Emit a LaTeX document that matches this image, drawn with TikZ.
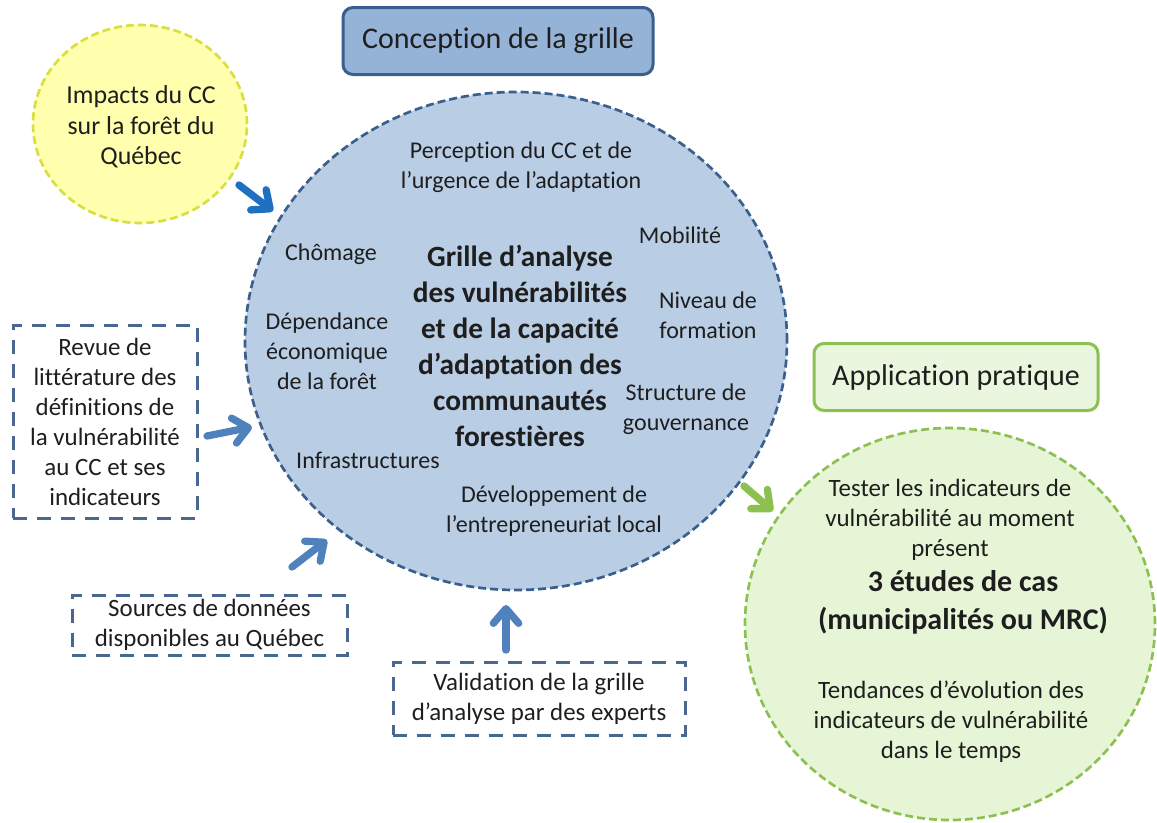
\documentclass[tikz,border=0pt]{standalone}
\usepackage{fontspec}
\setmainfont{Carlito}[Ligatures=NoCommon]
\usetikzlibrary{shapes.geometric,arrows.meta}
\definecolor{txt}{HTML}{1E1E1E}
\definecolor{blueF}{HTML}{B9CDE5}
\definecolor{blueB}{HTML}{3A5F8C}
\definecolor{headF}{HTML}{95B3D7}
\definecolor{boxB}{HTML}{4A6791}
\definecolor{yelF}{HTML}{FFFFAE}
\definecolor{yelB}{HTML}{D8E040}
\definecolor{grnF}{HTML}{E6F5D6}
\definecolor{grnB}{HTML}{8CC152}
\definecolor{appF}{HTML}{EAF6DD}
\definecolor{arrBlue}{HTML}{4F81BD}
\definecolor{arrVivid}{HTML}{1F70C1}
\begin{document}
\begin{tikzpicture}[x=0.75pt,y=-0.75pt,
  lbl/.style={font=\fontsize{18}{22.5}\selectfont, align=center, text=txt, inner sep=0pt},
  biglbl/.style={font=\fontsize{18.7}{22.5}\selectfont, align=center, text=txt, inner sep=0pt},
  boldlbl/.style={font=\fontsize{22}{27}\selectfont\bfseries, align=center, text=txt, inner sep=0pt},
  headbox/.style={rectangle, rounded corners=7.5pt, line width=2.25pt, align=center, text=txt,
    font=\fontsize{22.5}{27}\selectfont, inner sep=0pt},
  srcbox/.style={rectangle, draw=boxB, line width=2.25pt, dash pattern=on 10.5pt off 7.5pt,
    biglbl},
  blob/.style={ellipse, line width=2pt, dash pattern=on 6pt off 3pt, inner sep=0pt},
  flow/.style={line width=5.5pt, line cap=round, -{Straight Barb[round,length=11pt,width=19pt]}},
]
\useasboundingbox (0,0) rectangle (1157,822);

% central grid of analysis
\node[blob, draw=blueB, fill=blueF, minimum width=406.5pt, minimum height=373.5pt] (grid) at (516,341) {};
\node[boldlbl] (title) at (520,346) {Grille d’analyse\\des vulnérabilités\\et de la capacité\\d’adaptation des\\communautés\\forestières};
\node[lbl] (percep) at (521,167) {Perception du CC et de\\l’urgence de l’adaptation};
\node[lbl] (chom) at (331,254) {Chômage};
\node[lbl] (mobil) at (680,235) {Mobilité};
\node[lbl] (niveau) at (708,315) {Niveau de\\formation};
\node[lbl] (depend) at (327,351) {Dépendance\\économique\\de la forêt};
\node[lbl] (struct) at (686,409) {Structure de\\gouvernance};
\node[lbl] (infra) at (368,460) {Infrastructures};
\node[lbl] (devel) at (554,511) {Développement de\\l’entrepreneuriat local};

% header boxes
\node[headbox, draw=blueB, fill=headF, minimum width=232.5pt, minimum height=50.25pt] (concep) at (498,41) {Conception de la grille};
\node[headbox, draw=grnB, fill=appF, minimum width=213pt, minimum height=50.25pt] (applic) at (956,377) {Application pratique};

% inputs
\node[blob, draw=yelB, fill=yelF, minimum width=160.5pt, minimum height=148.5pt] (impact) at (140,124) {};
\node[font=\fontsize{19.4}{23}\selectfont, align=center, text=txt, inner sep=0pt] (impactT) at (141,127) {Impacts du CC\\sur la forêt du\\Québec};
\node[srcbox, minimum width=138pt, minimum height=144.75pt] (revue) at (105,421.5) {Revue de\\littérature des\\définitions de\\la vulnérabilité\\au CC et ses\\indicateurs};
\node[srcbox, minimum width=206.25pt, minimum height=45pt] (sources) at (209.5,625) {Sources de données\\disponibles au Québec};
\node[srcbox, minimum width=219pt, minimum height=54.75pt] (valid) at (539,698.5) {Validation de la grille\\d’analyse par des experts};

% practical application
\node[blob, draw=grnB, fill=grnF, minimum width=307.5pt, minimum height=294pt] (cases) at (950,624) {};
\node[biglbl] (tester) at (950,520) {Tester les indicateurs de\\vulnérabilité au moment\\présent};
\node[font=\fontsize{22.5}{28.5}\selectfont\bfseries, align=center, text=txt, inner sep=0pt] (etudes) at (963,602) {3 études de cas\\(municipalités ou MRC)};
\node[biglbl] (tend) at (951,722) {Tendances d’évolution des\\indicateurs de vulnérabilité\\dans le temps};

% arrow end points
\coordinate (i1) at (239,185);  \coordinate (g1) at (273,211);
\coordinate (r1) at (207,436);  \coordinate (g2) at (252,427);
\coordinate (s1) at (292,567);  \coordinate (g3) at (327,540);
\coordinate (v1) at (506,650);  \coordinate (g4) at (506,605);
\coordinate (g5) at (744,486);  \coordinate (c1) at (773,511);

\draw[flow, draw=arrVivid] (i1) -- (g1);
\draw[flow, draw=arrBlue] (r1) -- (g2);
\draw[flow, draw=arrBlue] (s1) -- (g3);
\draw[flow, draw=arrBlue] (v1) -- (g4);
\draw[flow, draw=grnB] (g5) -- (c1);
\end{tikzpicture}
\end{document}
